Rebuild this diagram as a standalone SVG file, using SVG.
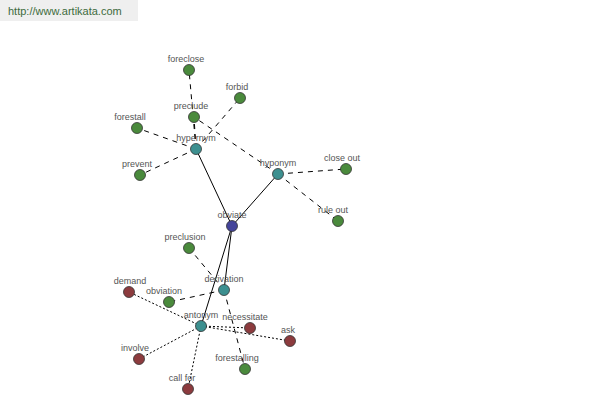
<svg xmlns="http://www.w3.org/2000/svg" width="600" height="400" viewBox="0 0 600 400">
<style>
text{font-family:"Liberation Sans",Arial,sans-serif;font-size:9px;fill:#555;text-anchor:middle}
.n{stroke:#333;stroke-width:0.8}
.g{fill:#4a8a3c}.t{fill:#3d9090}.b{fill:#44449a}.r{fill:#8c3b3e}
.s{stroke:#000;stroke-width:1;fill:none}
.d{stroke:#000;stroke-width:1;stroke-dasharray:5,5;fill:none}
.o{stroke:#000;stroke-width:1;stroke-dasharray:2,2;fill:none}
</style>
<rect width="600" height="400" fill="#fff"/>
<rect x="0" y="0" width="138" height="21" fill="#efefef"/>
<text x="8" y="15" style="text-anchor:start;font-size:11px;fill:#3d6b3d">http://www.artikata.com</text>
<g id="connectors">
<line class="s" x1="232" y1="226" x2="196" y2="149"/>
<line class="s" x1="232" y1="226" x2="278" y2="174"/>
<line class="s" x1="232" y1="226" x2="224" y2="290"/>
<line class="s" x1="232" y1="226" x2="201" y2="326"/>
<line class="d" x1="196" y1="149" x2="189" y2="70"/>
<line class="d" x1="196" y1="149" x2="194" y2="117"/>
<line class="d" x1="196" y1="149" x2="240" y2="98"/>
<line class="d" x1="196" y1="149" x2="137" y2="128"/>
<line class="d" x1="196" y1="149" x2="140" y2="175"/>
<line class="d" x1="278" y1="174" x2="194" y2="117"/>
<line class="d" x1="278" y1="174" x2="346" y2="169"/>
<line class="d" x1="278" y1="174" x2="338" y2="221"/>
<line class="d" x1="224" y1="290" x2="189" y2="248"/>
<line class="d" x1="224" y1="290" x2="169" y2="302"/>
<line class="d" x1="224" y1="290" x2="245" y2="369"/>
<line class="o" x1="201" y1="326" x2="129" y2="292"/>
<line class="o" x1="201" y1="326" x2="250" y2="328"/>
<line class="o" x1="201" y1="326" x2="290" y2="341"/>
<line class="o" x1="201" y1="326" x2="139" y2="359"/>
<line class="o" x1="201" y1="326" x2="188" y2="389"/>
</g>
<g id="obviate"><circle class="n b" cx="232" cy="226" r="5.5"/><text x="232" y="218">obviate</text></g>
<g id="hypernym"><circle class="n t" cx="196" cy="149" r="5.5"/><text x="196" y="141">hypernym</text></g>
<g id="hyponym"><circle class="n t" cx="278" cy="174" r="5.5"/><text x="278" y="166">hyponym</text></g>
<g id="derivation"><circle class="n t" cx="224" cy="290" r="5.5"/><text x="224" y="282">derivation</text></g>
<g id="antonym"><circle class="n t" cx="201" cy="326" r="5.5"/><text x="201" y="318">antonym</text></g>
<g id="foreclose"><circle class="n g" cx="189" cy="70" r="5.5"/><text x="186" y="62">foreclose</text></g>
<g id="forbid"><circle class="n g" cx="240" cy="98" r="5.5"/><text x="237" y="90">forbid</text></g>
<g id="preclude"><circle class="n g" cx="194" cy="117" r="5.5"/><text x="191" y="109">preclude</text></g>
<g id="forestall"><circle class="n g" cx="137" cy="128" r="5.5"/><text x="130" y="120">forestall</text></g>
<g id="prevent"><circle class="n g" cx="140" cy="175" r="5.5"/><text x="137" y="167">prevent</text></g>
<g id="close_out"><circle class="n g" cx="346" cy="169" r="5.5"/><text x="342" y="161">close out</text></g>
<g id="rule_out"><circle class="n g" cx="338" cy="221" r="5.5"/><text x="333" y="213">rule out</text></g>
<g id="preclusion"><circle class="n g" cx="189" cy="248" r="5.5"/><text x="185" y="240">preclusion</text></g>
<g id="obviation"><circle class="n g" cx="169" cy="302" r="5.5"/><text x="164" y="294">obviation</text></g>
<g id="forestalling"><circle class="n g" cx="245" cy="369" r="5.5"/><text x="237" y="361">forestalling</text></g>
<g id="demand"><circle class="n r" cx="129" cy="292" r="5.5"/><text x="130" y="284">demand</text></g>
<g id="necessitate"><circle class="n r" cx="250" cy="328" r="5.5"/><text x="245" y="320">necessitate</text></g>
<g id="ask"><circle class="n r" cx="290" cy="341" r="5.5"/><text x="288" y="333">ask</text></g>
<g id="involve"><circle class="n r" cx="139" cy="359" r="5.5"/><text x="135" y="351">involve</text></g>
<g id="call_for"><circle class="n r" cx="188" cy="389" r="5.5"/><text x="182" y="381">call for</text></g>
</svg>
